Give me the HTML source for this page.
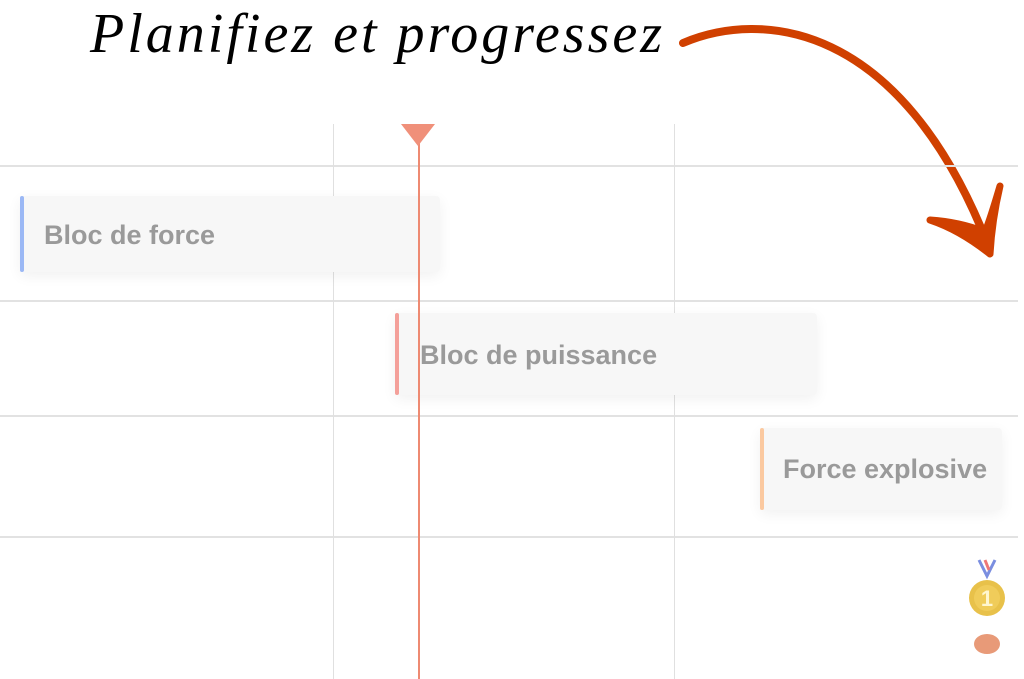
<!DOCTYPE html>
<html><head><style>
body{margin:0;width:1024px;height:679px;background:#fff;position:relative;overflow:hidden;font-family:"Liberation Sans",sans-serif}
.h{position:absolute;left:0;width:1018px;height:2px;background:#e2e2e2}
.v{position:absolute;top:124px;bottom:0;width:1px;background:#e0e0e0}
.box{position:absolute;background:#f7f7f7;box-shadow:0 4px 14px rgba(0,0,0,.06);border-radius:4px}
.bar{position:absolute;left:0;top:0;bottom:0;width:4px;border-radius:3px}
.t{position:absolute;font-weight:bold;font-size:27px;color:#9a9a9a;white-space:nowrap}
</style></head><body>
<div style="position:absolute;left:90px;top:2px;font-family:'Liberation Serif',serif;font-style:italic;font-size:56px;color:#000;letter-spacing:3px">Planifiez et progressez</div>
<svg style="position:absolute;left:0;top:0" width="1024" height="679">
<path d="M683 43 C 760 10, 900 20, 988 245" stroke="#d04000" stroke-width="8" fill="none" stroke-linecap="round"/>
<path d="M930 220 Q960 230 990 254 Q992 220 1000 186 Q990 220 985 232 Q960 222 930 220 Z" fill="#d04000" stroke="#d04000" stroke-width="7" stroke-linejoin="round"/>
</svg>
<div class="h" style="top:165px"></div>
<div class="h" style="top:300px"></div>
<div class="h" style="top:415px"></div>
<div class="h" style="top:536px"></div>
<div class="v" style="left:333px"></div>
<div class="v" style="left:674px"></div>
<div class="box" style="left:20px;top:196px;width:420px;height:76px"><div class="bar" style="background:#9bb8f5"></div><div class="t" style="left:24px;top:24px">Bloc de force</div></div>
<div class="box" style="left:395px;top:313px;width:422px;height:82px"><div class="bar" style="background:#f4a09a"></div><div class="t" style="left:25px;top:27px">Bloc de puissance</div></div>
<div class="box" style="left:760px;top:428px;width:242px;height:82px"><div class="bar" style="background:#fbc9a0"></div><div class="t" style="left:23px;top:26px">Force explosive</div></div>
<div style="position:absolute;left:418px;top:140px;width:2px;bottom:0;background:#ee8a72"></div>
<div style="position:absolute;left:401px;top:124px;width:0;height:0;border-left:17px solid transparent;border-right:17px solid transparent;border-top:22px solid #f0907a"></div>
<svg style="position:absolute;left:965px;top:556px" width="45" height="100">
<path d="M14 4 L22 20 L30 4" stroke="#7a8ee0" stroke-width="3" fill="none"/>
<path d="M20 4 L24 14" stroke="#e77" stroke-width="3"/>
<circle cx="22" cy="42" r="18" fill="#e8c14a"/>
<circle cx="22" cy="42" r="13" fill="#f0cc5a"/>
<text x="22" y="50" text-anchor="middle" font-family="Liberation Sans" font-weight="bold" font-size="22" fill="#fff6d0">1</text>
<ellipse cx="22" cy="88" rx="13" ry="10" fill="#e89a78"/>
</svg>
</body></html>
